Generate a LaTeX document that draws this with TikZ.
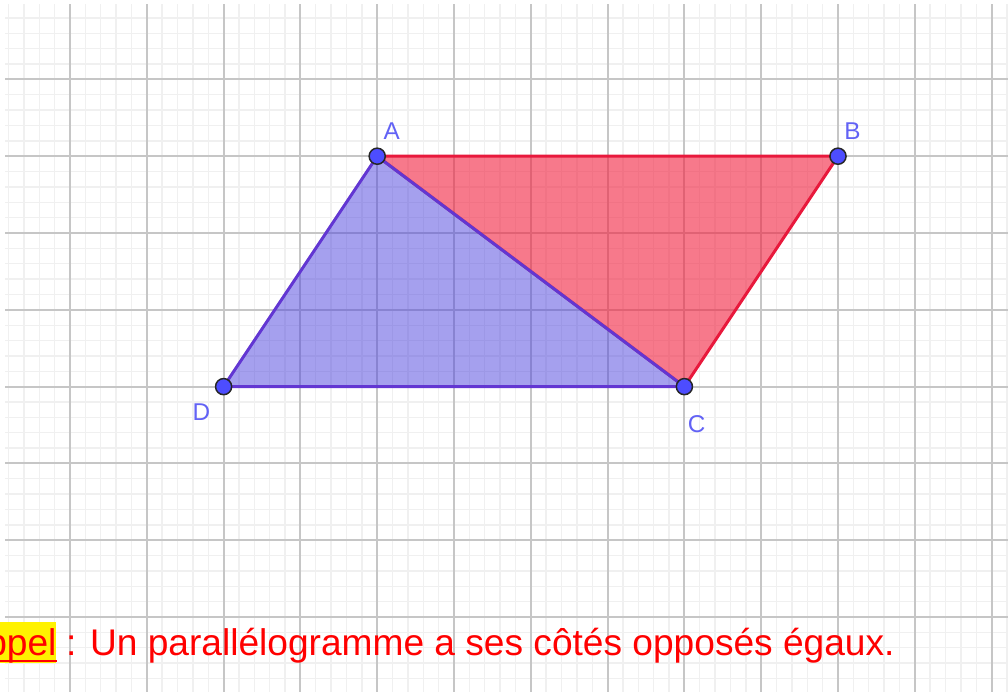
\documentclass[tikz,border=0pt]{standalone}
\usepackage{xcolor}
\usepackage{fontspec}
\setmainfont{Liberation Sans}
\usepackage{tikz}
\usetikzlibrary{positioning, calc, backgrounds}
\definecolor{gridminor}{HTML}{F0F0F0}
\definecolor{gridmajor}{HTML}{C6C6C6}
\definecolor{trired}{HTML}{F2203E}
\definecolor{edgered}{HTML}{E8193C}
\definecolor{triblue}{HTML}{4B41DD}
\definecolor{edgeblue}{HTML}{6236D2}
\definecolor{ptblue}{HTML}{4D4DFF}
\definecolor{lblblue}{HTML}{6262F5}

\begin{document}
\begin{tikzpicture}[
        pt/.style={circle, draw=black!85, fill=ptblue, line width=0.55pt, minimum size=0.21cm, inner sep=0pt},
        lbl/.style={text=lblblue, font=\fontsize{9}{11}\selectfont, inner sep=0pt},
        redtri/.style={fill=trired, fill opacity=0.6, draw=edgered, draw opacity=1, line width=1.1pt, line join=round},
        bluetri/.style={fill=triblue, fill opacity=0.5, draw=edgeblue, draw opacity=1, line width=1.1pt, line join=round},
        rule/.style={text=red, font=\fontsize{13.75}{17}\selectfont, inner sep=0pt}
    ]
        \useasboundingbox (0.0885,0.0365) rectangle (13.2135,9.034);
        \clip (0.0885,0.0365) rectangle (13.2135,9.034);

        \node (A) [pt] at (5,7) {};
        \node (B) [pt] at (11,7) {};
        \node (C) [pt] at (9,4) {};
        \node (D) [pt] at (3,4) {};

        \begin{pgfonlayer}{background}
            % grid
            \begin{scope}
                \clip (0.154,0.0365) rectangle (13.2135,8.98);
                \draw [gridminor, line width=0.5pt] (0,0) grid [step=0.2] (13.4,9.2);
                \draw [gridmajor, line width=0.75pt] (0,0) grid [step=1] (13.4,9.2);
            \end{scope}
            \path [redtri] (A.center) -- (B.center) -- (C.center) -- cycle;
            \path [bluetri] (A.center) -- (C.center) -- (D.center) -- cycle;
        \end{pgfonlayer}

        \node (lA) [lbl] at (5.19,7.33) {A};
        \node (lB) [lbl] at (11.19,7.32) {B};
        \node (lC) [lbl] at (9.16,3.51) {C};
        \node (lD) [lbl] at (2.71,3.67) {D};

        \node (hl) [rule, fill=yellow, text height=0.43cm, text depth=0.104cm, anchor=base east] at (0.831,0.505) {ppel};
        \draw [red, line width=0.8pt] ($(hl.base west)+(0,-0.078)$) -- ($(hl.base east)+(0,-0.078)$);
        \node (regle) [rule, anchor=base west, xshift=0.11cm] at (hl.base east) {: Un parallélogramme a ses côtés opposés égaux.};
    \end{tikzpicture}
\end{document}
